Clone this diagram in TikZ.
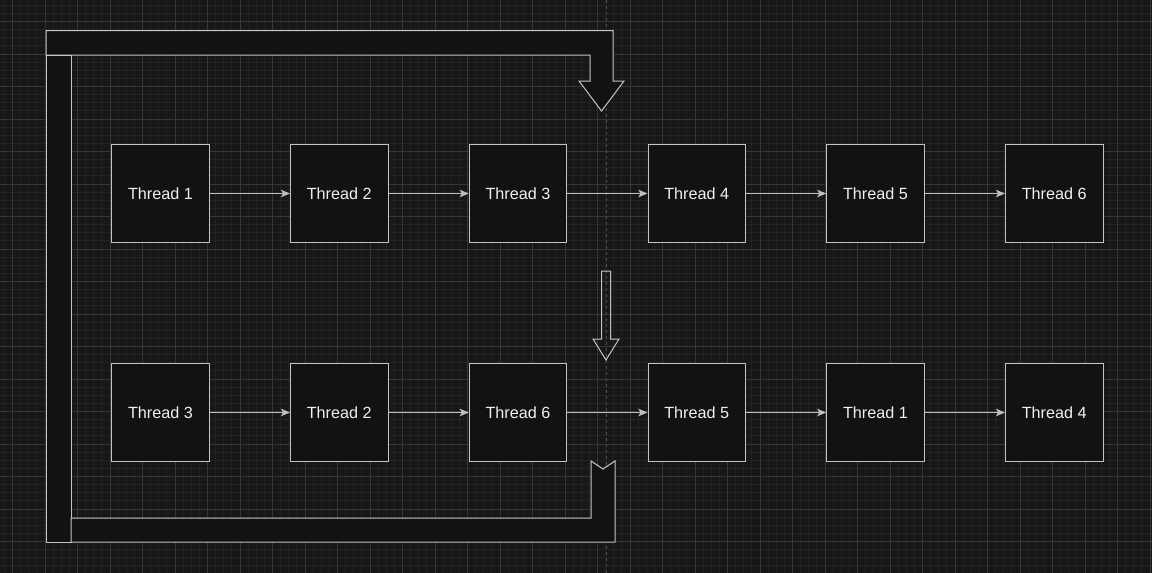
\documentclass[tikz,border=0pt]{standalone}
\usepackage{fontspec}
\setmainfont{Liberation Sans}
\usetikzlibrary{arrows.meta}
\definecolor{bgc}{HTML}{171717}
\definecolor{minorc}{HTML}{222222}
\definecolor{majorc}{HTML}{363636}
\definecolor{fillc}{HTML}{121212}
\definecolor{strokec}{HTML}{C4C4C4}
\definecolor{textc}{HTML}{F0F0F0}
\definecolor{pagec}{HTML}{4A4A4A}
\tikzset{
  thread/.style={draw=strokec, fill=fillc, line width=1pt, minimum width=97.5pt, minimum height=97.5pt, inner sep=0pt, text=textc, font=\fontsize{16.2}{19}\selectfont},
  link/.style={draw=strokec!110, line width=1pt, -{Stealth[length=9pt,width=7.5pt,inset=2pt]}},
  band/.style={draw=strokec, fill=fillc, line width=1pt, line join=miter},
  minorline/.style={draw=minorc, line width=0.8pt},
  majorline/.style={draw=majorc, line width=0.9pt},
}
\begin{document}
\begin{tikzpicture}[x=1pt,y=-1pt]
\useasboundingbox (0,0) rectangle (1152,573);
\fill[bgc] (0,0) rectangle (1152,573);
% grid
\foreach \i in {0,...,141} { \draw[minorline] ({4.375+\i*8.125},0) -- ++(0,573); }
\foreach \j in {0,...,69} { \draw[minorline] (0,{5.25+\j*8.125}) -- ++(1152,0); }
\foreach \i in {0,...,35} { \draw[majorline] ({12.5+\i*32.5},0) -- ++(0,573); }
\foreach \j in {0,...,16} { \draw[majorline] (0,{21.5+\j*32.5}) -- ++(1152,0); }
% page break
\draw[pagec, line width=1pt, dash pattern=on 3pt off 3pt] (606.5,0) -- (606.5,573);
% big loop shapes
\draw[band] (46,30.5) -- (613,30.5) -- (613,81) -- (624,81) -- (601.5,111) -- (579,81) -- (590,81) -- (590,55) -- (46,55) -- cycle;
\draw[band] (46,55) rectangle (71,542);
\draw[band] (71,518) -- (591,518) -- (591,461) -- (603,469) -- (615,461) -- (615,542) -- (71,542) -- cycle;
% middle arrow
\draw[draw=strokec, line width=1pt, line join=miter] (601.5,271) -- (610.5,271) -- (610.5,339) -- (619,339) -- (606,360) -- (593,339) -- (601.5,339) -- cycle;
% row 1
\node[thread] (t1) at (160.5,193.5) {Thread 1};
\node[thread] (t2) at (339.25,193.5) {Thread 2};
\node[thread] (t3) at (518,193.5) {Thread 3};
\node[thread] (t4) at (696.75,193.5) {Thread 4};
\node[thread] (t5) at (875.5,193.5) {Thread 5};
\node[thread] (t6) at (1054.25,193.5) {Thread 6};
% row 2
\node[thread] (b1) at (160.5,412.5) {Thread 3};
\node[thread] (b2) at (339.25,412.5) {Thread 2};
\node[thread] (b3) at (518,412.5) {Thread 6};
\node[thread] (b4) at (696.75,412.5) {Thread 5};
\node[thread] (b5) at (875.5,412.5) {Thread 1};
\node[thread] (b6) at (1054.25,412.5) {Thread 4};
% links
\foreach \a/\b in {t1/t2,t2/t3,t3/t4,t4/t5,t5/t6,b1/b2,b2/b3,b3/b4,b4/b5,b5/b6}
  { \draw[link] (\a.east) -- (\b.west); }
\end{tikzpicture}
\end{document}
